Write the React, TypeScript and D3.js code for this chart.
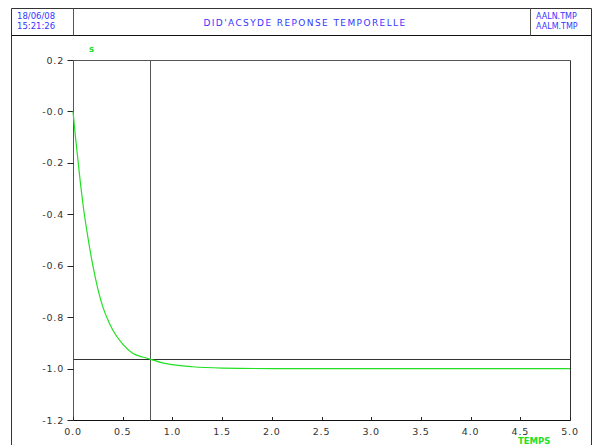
import React from "react";
import * as d3 from "d3";

const timeValues = [0, 0.025, 0.05, 0.075, 0.1, 0.15, 0.2, 0.25, 0.3, 0.35, 0.4, 0.5, 0.6, 0.7, 0.775, 0.9, 1.0, 1.2, 1.5, 2.0, 3.0, 4.0, 5.0];
const sValues = [0, -0.1, -0.19, -0.28, -0.36, -0.49, -0.6, -0.69, -0.76, -0.81, -0.85, -0.905, -0.94, -0.955, -0.963, -0.978, -0.985, -0.993, -0.998, -1.0, -1.0, -1.0, -1.0];
const xTicks = [0, 0.5, 1, 1.5, 2, 2.5, 3, 3.5, 4, 4.5, 5];
const yTicks = [0.2, 0, -0.2, -0.4, -0.6, -0.8, -1.0, -1.2];
const yTickLabels = ["0.2", "-0.0", "-0.2", "-0.4", "-0.6", "-0.8", "-1.0", "-1.2"];
const cursorT = 0.775;
const cursorS = -0.963;
const title = "DID'ACSYDE REPONSE TEMPORELLE";
const headerDate = ["18/06/08", "15:21:26"];
const headerFiles = ["AALN.TMP", "AALM.TMP"];

export default function App() {
  const W = 596, H = 445;
  const x = d3.scaleLinear().domain([0, 5]).range([73, 570]);
  const y = d3.scaleLinear().domain([0.2, -1.2]).range([60, 420]);
  const pts = timeValues.map((t, i) => [t, sValues[i]] as [number, number]);
  const line = d3.line<[number, number]>().x(d => x(d[0])).y(d => y(d[1])).curve(d3.curveMonotoneX);
  const blue = "#3535ff";
  const green = "#22e022";
  const font = "'DejaVu Sans', Verdana, sans-serif";
  return (
    <svg width={W} height={H} style={{ position: "absolute", left: 0, top: 0, background: "#fff" }}>
      {/* outer frame */}
      <line x1={11.5} y1={8.5} x2={591.5} y2={8.5} stroke="#333" />
      <line x1={11.5} y1={8.5} x2={11.5} y2={H} stroke="#333" />
      <line x1={591.5} y1={8.5} x2={591.5} y2={H} stroke="#333" />
      <line x1={11.5} y1={35.5} x2={591.5} y2={35.5} stroke="#111" />
      <line x1={73.5} y1={8.5} x2={73.5} y2={35.5} stroke="#555" />
      <line x1={530.5} y1={8.5} x2={530.5} y2={35.5} stroke="#555" />
      <g fontFamily={font} fontSize={8.5} fill={blue}>
        <text x={17} y={19}>{headerDate[0]}</text>
        <text x={17} y={29}>{headerDate[1]}</text>
        <text x={536} y={19} fontSize={8}>{headerFiles[0]}</text>
        <text x={536} y={29} fontSize={8}>{headerFiles[1]}</text>
        <text x={305} y={26} textAnchor="middle" fontSize={9} letterSpacing={1.4}>{title}</text>
      </g>
      {/* plot frame */}
      <line x1={73.5} y1={60.5} x2={570.5} y2={60.5} stroke="#555" />
      <line x1={570.5} y1={60.5} x2={570.5} y2={420.5} stroke="#333" />
      <line x1={73.5} y1={60.5} x2={73.5} y2={420.5} stroke="#555" />
      <line x1={73.5} y1={420.5} x2={570.5} y2={420.5} stroke="#111" />
      {/* ticks */}
      <g fontFamily={font} fontSize={9.5} fill="#333">
        {yTicks.map((v, i) => (
          <g key={i}>
            <line x1={67.5} x2={73.5} y1={Math.round(y(v)) + 0.5} y2={Math.round(y(v)) + 0.5} stroke="#222" />
            <text x={64} y={y(v) + 3.5} textAnchor="end" letterSpacing={0.8}>{yTickLabels[i]}</text>
          </g>
        ))}
        {xTicks.map((v, i) => (
          <g key={"x" + i}>
            <line x1={Math.round(x(v)) + 0.5} x2={Math.round(x(v)) + 0.5} y1={417} y2={420.5} stroke="#222" />
            <text x={x(v)} y={435} textAnchor="middle" letterSpacing={0.8}>{v.toFixed(1)}</text>
          </g>
        ))}
      </g>
      {/* cursor lines */}
      <line x1={73.5} x2={570.5} y1={Math.round(y(cursorS)) + 0.5} y2={Math.round(y(cursorS)) + 0.5} stroke="#333" />
      <line x1={Math.round(x(cursorT)) + 0.5} x2={Math.round(x(cursorT)) + 0.5} y1={60.5} y2={420.5} stroke="#555" />
      {/* curve */}
      <path d={line(pts) || ""} fill="none" stroke={green} strokeWidth={1.2} />
      <g fontFamily={font} fontSize={8.5} fill="#1ee01e" fontWeight="bold">
        <text x={89} y={52}>s</text>
        <text x={518} y={444}>TEMPS</text>
      </g>
    </svg>
  );
}
